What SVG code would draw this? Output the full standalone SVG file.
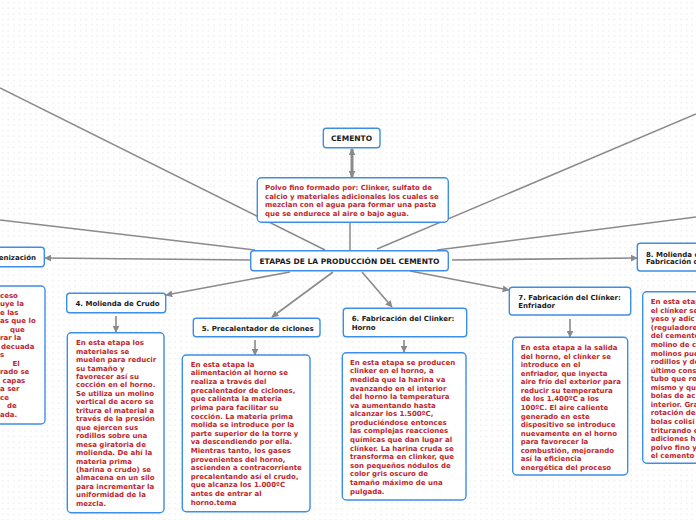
<svg xmlns="http://www.w3.org/2000/svg" width="696" height="520" viewBox="0 0 696 520">
<style>
.box{fill:#fff;stroke:#3d8ee8;stroke-width:1.4}
.h{font-family:"DejaVu Sans",Verdana,sans-serif;font-weight:bold;font-size:7px;fill:#1a1a1a}
.t{font-family:"DejaVu Sans",Verdana,sans-serif;font-weight:bold;font-size:7px;fill:#c0272d}
.big{font-size:7.5px}
.ln{fill:none;stroke:#8a8a8a;stroke-width:1.5}
.ar{fill:none;stroke:#8a8a8a;stroke-width:1.6;marker-end:url(#ah)}
</style>
<defs>
<pattern id="dots" width="5.56" height="5.56" patternUnits="userSpaceOnUse">
<circle cx="2.78" cy="2.78" r="0.75" fill="#e3e3e3"/>
</pattern>
<marker id="ah" viewBox="0 0 10 10" refX="9" refY="5" markerWidth="7" markerHeight="7" markerUnits="userSpaceOnUse" orient="auto-start-reverse">
<path d="M0,0 L10,5 L0,10 z" fill="#8a8a8a"/>
</marker>
</defs>
<rect width="696" height="520" fill="#fff"/>
<rect width="696" height="520" fill="url(#dots)"/>

<g id="connectors">
<line class="ln" x1="325" y1="250" x2="0" y2="88"/>
<line class="ln" x1="255" y1="250" x2="0" y2="220"/>
<line class="ln" x1="377" y1="249" x2="696" y2="114"/>
<line class="ln" x1="437" y1="250" x2="696" y2="217"/>
<line class="ln" x1="350" y1="223" x2="350" y2="250"/>
<line x1="352" y1="149" x2="352" y2="177" stroke="#8a8a8a" stroke-width="3" marker-start="url(#ah)" marker-end="url(#ah)"/>
<line class="ar" x1="250" y1="260" x2="45" y2="258"/>
<line class="ar" x1="290" y1="272" x2="166" y2="295"/>
<line class="ar" x1="333" y1="272" x2="272" y2="317"/>
<line class="ar" x1="362" y1="272" x2="392" y2="307"/>
<line class="ar" x1="410" y1="271" x2="509" y2="290"/>
<line class="ar" x1="452" y1="260" x2="637" y2="258"/>
<line class="ar" x1="116" y1="316" x2="116" y2="332"/>
<line class="ar" x1="255" y1="340" x2="255" y2="355"/>
<line class="ar" x1="404" y1="340" x2="404" y2="352"/>
<line class="ar" x1="570" y1="319" x2="570" y2="337"/>
</g>

<g id="cemento">
<rect class="box" x="323.3" y="128.3" width="56.7" height="19.4" rx="3"/>
<text class="h big" x="351.6" y="141" text-anchor="middle">CEMENTO</text>
</g>

<g id="definicion">
<rect class="box" x="257.3" y="177.7" width="191" height="44.6" rx="4"/>
<text class="t" x="265" y="190.2">Polvo fino formado por: Clinker, sulfato de<tspan x="265" dy="8.6">calcio y materiales adicionales los cuales se</tspan><tspan x="265" dy="8.6">mezclan con el agua para formar una pasta</tspan><tspan x="265" dy="8.6">que se endurece al aire o bajo agua.</tspan></text>
</g>

<g id="etapas">
<rect class="box" x="250.7" y="250.7" width="197.6" height="20" rx="3"/>
<text class="h big" x="349.5" y="263.7" text-anchor="middle">ETAPAS DE LA PRODUCCIÓN DEL CEMENTO</text>
</g>

<g id="n3">
<rect class="box" x="-10" y="247.3" width="54.3" height="19.4" rx="3"/>
<text class="h" x="36" y="259.8" text-anchor="end">enización</text>
</g>

<g id="d3">
<rect class="box" x="-10" y="286" width="55" height="138" rx="4"/>
<text class="t" y="297.5"><tspan x="0">ceso</tspan><tspan x="0" dy="8.52">uye la</tspan><tspan x="0" dy="8.52">e las</tspan><tspan x="0" dy="8.52">as que lo</tspan><tspan x="10" dy="8.52">que</tspan><tspan x="0" dy="8.52">rar la</tspan><tspan x="1" dy="8.52">decuada</tspan><tspan x="0" dy="8.52">s</tspan><tspan x="12.5" dy="8.52">El</tspan><tspan x="0" dy="8.52">rado se</tspan><tspan x="2.5" dy="8.52">capas</tspan><tspan x="0" dy="8.52">a ser</tspan><tspan x="0" dy="8.52">ce</tspan><tspan x="7" dy="8.52">de</tspan><tspan x="0" dy="8.52">ada.</tspan></text>
</g>

<g id="n4">
<rect class="box" x="66.7" y="293.3" width="99" height="19.4" rx="3"/>
<text class="h" x="75.5" y="305.8">4. Molienda de Crudo</text>
</g>

<g id="d4">
<rect class="box" x="67.3" y="332.7" width="96.7" height="180" rx="4"/>
<text class="t" y="345.2"><tspan x="76">En esta etapa los</tspan><tspan x="76" dy="8.45">materiales se</tspan><tspan x="76" dy="8.45">muelen para reducir</tspan><tspan x="76" dy="8.45">su tamaño y</tspan><tspan x="76" dy="8.45">favorecer así su</tspan><tspan x="76" dy="8.45">cocción en el horno.</tspan><tspan x="76" dy="8.45">Se utiliza un molino</tspan><tspan x="76" dy="8.45">vertical de acero se</tspan><tspan x="76" dy="8.45">tritura el material a</tspan><tspan x="76" dy="8.45">través de la presión</tspan><tspan x="76" dy="8.45">que ejercen sus</tspan><tspan x="76" dy="8.45">rodillos sobre una</tspan><tspan x="76" dy="8.45">mesa giratoria de</tspan><tspan x="76" dy="8.45">molienda. De ahí la</tspan><tspan x="76" dy="8.45">materia prima</tspan><tspan x="76" dy="8.45">(harina o crudo) se</tspan><tspan x="76" dy="8.45">almacena en un silo</tspan><tspan x="76" dy="8.45">para incrementar la</tspan><tspan x="76" dy="8.45">uniformidad de la</tspan><tspan x="76" dy="8.45">mezcla.</tspan></text>
</g>

<g id="n5">
<rect class="box" x="193.3" y="318.3" width="126.7" height="18.4" rx="3"/>
<text class="h" x="201.7" y="330.5">5. Precalentador de ciclones</text>
</g>

<g id="d5">
<rect class="box" x="182.3" y="355" width="127.7" height="156.7" rx="4"/>
<text class="t" y="366.8"><tspan x="190.7">En esta etapa la</tspan><tspan x="190.7" dy="8.62">alimentación al horno se</tspan><tspan x="190.7" dy="8.62">realiza a través del</tspan><tspan x="190.7" dy="8.62">precalentador de ciclones,</tspan><tspan x="190.7" dy="8.62">que calienta la materia</tspan><tspan x="190.7" dy="8.62">prima para facilitar su</tspan><tspan x="190.7" dy="8.62">cocción. La materia prima</tspan><tspan x="190.7" dy="8.62">molida se introduce por la</tspan><tspan x="190.7" dy="8.62">parte superior de la torre y</tspan><tspan x="190.7" dy="8.62">va descendiendo por ella.</tspan><tspan x="190.7" dy="8.62">Mientras tanto, los gases</tspan><tspan x="190.7" dy="8.62">provenientes del horno,</tspan><tspan x="190.7" dy="8.62">ascienden a contracorriente</tspan><tspan x="190.7" dy="8.62">precalentando así el crudo,</tspan><tspan x="190.7" dy="8.62">que alcanza los 1.000ºC</tspan><tspan x="190.7" dy="8.62">antes de entrar al</tspan><tspan x="190.7" dy="8.62">horno.tema</tspan></text>
</g>

<g id="n6">
<rect class="box" x="343.3" y="308.3" width="123.4" height="28.4" rx="3"/>
<text class="h" x="351.7" y="320.8">6. Fabricación del Clinker:<tspan x="351.7" dy="9">Horno</tspan></text>
</g>

<g id="d6">
<rect class="box" x="342.3" y="352.7" width="123.7" height="147.3" rx="4"/>
<text class="t" y="364.8"><tspan x="350">En esta etapa se producen</tspan><tspan x="350" dy="8.58">clinker en el horno, a</tspan><tspan x="350" dy="8.58">medida que la harina va</tspan><tspan x="350" dy="8.58">avanzando en el interior</tspan><tspan x="350" dy="8.58">del horno la temperatura</tspan><tspan x="350" dy="8.58">va aumentando hasta</tspan><tspan x="350" dy="8.58">alcanzar los 1.500ºC,</tspan><tspan x="350" dy="8.58">produciéndose entonces</tspan><tspan x="350" dy="8.58">las complejas reacciones</tspan><tspan x="350" dy="8.58">químicas que dan lugar al</tspan><tspan x="350" dy="8.58">clínker.  La harina cruda se</tspan><tspan x="350" dy="8.58">transforma en clinker, que</tspan><tspan x="350" dy="8.58">son pequeños nódulos de</tspan><tspan x="350" dy="8.58">color gris oscuro de</tspan><tspan x="350" dy="8.58">tamaño máximo de  una</tspan><tspan x="350" dy="8.58">pulgada.</tspan></text>
</g>

<g id="n7">
<rect class="box" x="509.3" y="287.3" width="121.4" height="27.7" rx="3"/>
<text class="h" x="518.3" y="299.8">7. Fabricación del Clínker:<tspan x="518.3" dy="8.4">Enfriador</tspan></text>
</g>

<g id="d7">
<rect class="box" x="512.7" y="337.3" width="115" height="137.7" rx="4"/>
<text class="t" y="350.2"><tspan x="520.7">En esta etapa a la salida</tspan><tspan x="520.7" dy="8.54">del horno, el clínker se</tspan><tspan x="520.7" dy="8.54">introduce en el</tspan><tspan x="520.7" dy="8.54">enfriador, que inyecta</tspan><tspan x="520.7" dy="8.54">aire frío del exterior para</tspan><tspan x="520.7" dy="8.54">reducir su temperatura</tspan><tspan x="520.7" dy="8.54">de los 1.400ºC a los</tspan><tspan x="520.7" dy="8.54">100ºC. El aire caliente</tspan><tspan x="520.7" dy="8.54">generado en este</tspan><tspan x="520.7" dy="8.54">dispositivo se introduce</tspan><tspan x="520.7" dy="8.54">nuevamente en el horno</tspan><tspan x="520.7" dy="8.54">para favorecer la</tspan><tspan x="520.7" dy="8.54">combustión, mejorando</tspan><tspan x="520.7" dy="8.54">así la eficiencia</tspan><tspan x="520.7" dy="8.54">energética del proceso</tspan></text>
</g>

<g id="n8">
<rect class="box" x="637.3" y="243.3" width="80" height="27.7" rx="3"/>
<text class="h" x="646" y="256.5">8. Molienda de<tspan x="646" dy="7.7">Fabricación de</tspan></text>
</g>

<g id="d8">
<rect class="box" x="642.7" y="291.7" width="80" height="171.6" rx="4"/>
<text class="t" y="304.2"><tspan x="650.7">En esta etap</tspan><tspan x="650.7" dy="8.56">el clínker se</tspan><tspan x="650.7" dy="8.56">yeso y adic</tspan><tspan x="650.7" dy="8.56">(reguladore</tspan><tspan x="650.7" dy="8.56">del cemento</tspan><tspan x="650.7" dy="8.56">molino de c</tspan><tspan x="650.7" dy="8.56">molinos pue</tspan><tspan x="650.7" dy="8.56">rodillos y de</tspan><tspan x="650.7" dy="8.56">último cons</tspan><tspan x="650.7" dy="8.56">tubo que ro</tspan><tspan x="650.7" dy="8.56">mismo y qu</tspan><tspan x="650.7" dy="8.56">bolas de ac</tspan><tspan x="650.7" dy="8.56">interior. Gra</tspan><tspan x="650.7" dy="8.56">rotación del</tspan><tspan x="650.7" dy="8.56">bolas colisi</tspan><tspan x="650.7" dy="8.56">triturando e</tspan><tspan x="650.7" dy="8.56">adiciones h</tspan><tspan x="650.7" dy="8.56">polvo fino y</tspan><tspan x="650.7" dy="8.56">el cemento</tspan></text>
</g>
</svg>
